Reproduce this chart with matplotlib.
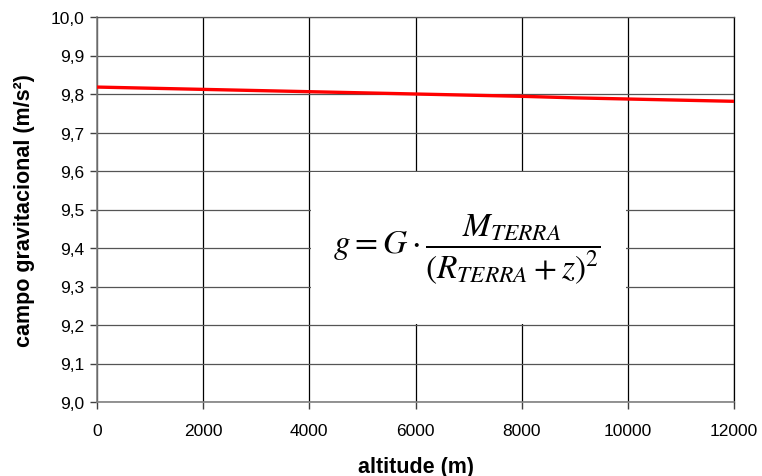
import matplotlib
matplotlib.use("Agg")
import matplotlib.pyplot as plt
from matplotlib.patches import Rectangle
from matplotlib.ticker import FuncFormatter

altitude = [0, 1000, 2000, 3000, 4000, 5000, 6000, 7000, 8000, 9000, 10000, 11000, 12000]
campo = [9.818, 9.815, 9.812, 9.809, 9.806, 9.803, 9.800, 9.797, 9.794, 9.790, 9.787, 9.784, 9.781]
x_ticks = [0, 2000, 4000, 6000, 8000, 10000, 12000]
y_ticks = [9.0, 9.1, 9.2, 9.3, 9.4, 9.5, 9.6, 9.7, 9.8, 9.9, 10.0]

plt.rcParams['font.family'] = ['Liberation Sans', 'DejaVu Sans']
plt.rcParams['mathtext.fontset'] = 'stix'

fig = plt.figure(figsize=(7.62, 4.77), dpi=100)
ax = fig.add_axes([97/762, 1 - 403/477, (734 - 97)/762, (403 - 18)/477])

ax.set_xlim(0, 12000)
ax.set_ylim(9.0, 10.0)
ax.set_xticks(x_ticks)
ax.set_yticks(y_ticks)
ax.yaxis.set_major_formatter(FuncFormatter(lambda v, p: f"{v:.1f}".replace('.', ',')))
ax.xaxis.set_major_formatter(FuncFormatter(lambda v, p: f"{int(round(v))}"))

ax.xaxis.grid(True, color='black', linewidth=0.9, zorder=0)
ax.yaxis.grid(True, color='#555555', linewidth=0.9, zorder=0)
ax.set_axisbelow(True)

for side in ['left', 'bottom']:
    ax.spines[side].set_color('#808080')
    ax.spines[side].set_linewidth(1.2)
ax.spines['top'].set_color('#555555')
ax.spines['top'].set_linewidth(0.9)
ax.spines['right'].set_color('black')
ax.spines['right'].set_linewidth(0.9)

ax.tick_params(axis='both', direction='out', length=5, width=1, color='#404040',
               labelsize=12.5, pad=4)
ax.tick_params(axis='x', pad=10)

ax.add_patch(Rectangle((4030, 9.203), 5940, 0.394, facecolor='white',
                       edgecolor='none', zorder=1.5))

ax.plot(altitude, campo, color='red', linewidth=2.4, zorder=3)

ax.text(6970, 9.4, r'$g = G\cdot\dfrac{M_{TERRA}}{(R_{TERRA}+z)^2}$',
        fontsize=24, ha='center', va='center', zorder=4)

ax.set_xlabel('altitude (m)', fontsize=15.5, fontweight='bold')
ax.set_ylabel('campo gravitacional (m/s²)', fontsize=15.5, fontweight='bold')
ax.xaxis.set_label_coords(0.5, -(457 - 403) / 385, transform=ax.transAxes)
ax.yaxis.set_label_coords(-(97 - 35) / 637, 0.5, transform=ax.transAxes)

fig.savefig('out.png', dpi=100, facecolor='white')
